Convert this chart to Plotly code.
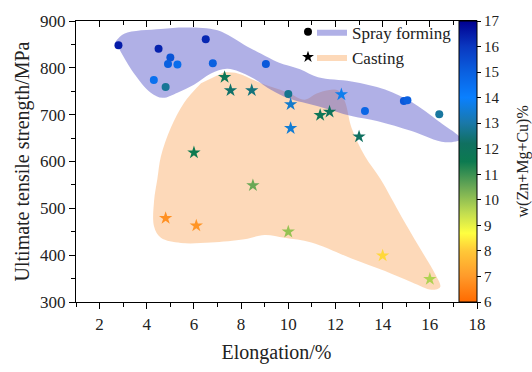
import plotly.graph_objects as go

# ---------------- data ----------------
spray_elong = [2.8, 4.5, 5.0, 4.9, 5.3, 4.3, 4.8, 6.5, 6.8, 9.05, 10.0, 13.25, 14.9, 15.05, 16.4]
spray_uts   = [848, 841, 822, 808, 807, 774, 759, 861, 810, 808, 744, 708, 729, 731, 701]
spray_w     = [16.5, 16.4, 15.3, 15.0, 14.6, 14.5, 12.8, 16.3, 15.0, 15.2, 12.7, 14.8, 15.2, 15.0, 12.9]

cast_elong = [7.3, 7.55, 8.45, 10.1, 10.1, 6.0, 11.35, 11.75, 12.25, 13.0, 8.5, 4.8, 6.1, 10.0, 14.0, 16.0]
cast_uts   = [780, 752, 752, 722, 671, 619, 699, 706, 743, 653, 549, 479, 463, 450, 399, 349]
cast_w     = [11.7, 12.3, 12.5, 13.4, 13.5, 11.5, 11.8, 12.0, 13.8, 12.2, 10.5, 6.8, 6.9, 10.0, 8.2, 9.7]

# region outlines (elongation, UTS)
spray_region_x = [2.68, 3.04, 4.6, 5.73, 7.0, 8.14, 8.85, 9.56, 10.5, 11.26, 12.68, 14.1, 15.23, 16.37, 17.3,
                  16.65, 15.23, 13.8, 12.68, 11.26, 10.0, 9.3, 8.43, 7.43, 6.72, 6.0, 5.3, 4.67, 4.17, 3.46, 2.89]
spray_region_y = [856, 873, 883, 886, 880, 849, 830, 812, 797, 780, 771, 754, 727, 686, 648,
                  641, 665, 686, 697, 718, 735, 752, 780, 798, 788, 764, 747, 736, 747, 788, 835]

cast_region_x = [7.29, 7.86, 8.85, 9.99, 10.7, 11.2, 11.68, 12.1, 12.4, 12.68, 13.25, 13.9, 14.8, 15.52, 16.23, 16.44,
                 16.08, 15.23, 14.1, 12.68, 10.98, 9.84, 9.0, 8.14, 6.72, 5.45, 4.6, 4.31, 4.31, 4.45, 4.6, 5.02, 5.59, 6.3]
cast_region_y = [791, 788, 767, 747, 732, 745, 752, 752, 728, 672, 611, 563, 482, 420, 359, 332,
                 326, 342, 366, 393, 427, 437, 443, 434, 427, 426, 437, 461, 516, 563, 611, 672, 726, 767]

x_ticks = [2, 4, 6, 8, 10, 12, 14, 16, 18]
y_ticks = [300, 400, 500, 600, 700, 800, 900]
cb_ticks = [6, 7, 8, 9, 10, 11, 12, 13, 14, 15, 16, 17]

colorscale = [
    [0.0, "#ff6a00"], [0.0909, "#ff9a2a"], [0.1818, "#ffc838"], [0.245, "#ffff40"],
    [0.318, "#c0dc50"], [0.409, "#6aa855"], [0.5, "#0c7a50"], [0.564, "#107060"],
    [0.636, "#1a78a8"], [0.727, "#0a80ff"], [0.818, "#0a60e0"], [0.909, "#0a38c0"],
    [1.0, "#000090"],
]

FONT = "Liberation Serif"
L, R, T, B = 76, 55, 15, 63
W, H = 532, 372
pw = W - L - R
ph = H - T - B

def px_to_paper_x(p):
    return (p - L) / pw

def py_to_paper_y(p):
    return (H - B - p) / ph

fig = go.Figure()

# regions
fig.add_trace(go.Scatter(x=cast_region_x, y=cast_region_y, fill="toself", mode="lines",
                         line=dict(width=0, shape="spline", smoothing=1.0),
                         fillcolor="rgba(250,160,80,0.40)", name="Casting",
                         legend="legend", legendrank=2, hoverinfo="skip"))
fig.add_trace(go.Scatter(x=spray_region_x, y=spray_region_y, fill="toself", mode="lines",
                         line=dict(width=0, shape="spline", smoothing=1.0),
                         fillcolor="rgba(80,80,200,0.45)", name="Spray forming",
                         legend="legend", legendrank=1, hoverinfo="skip"))

# data points
fig.add_trace(go.Scatter(x=spray_elong, y=spray_uts, mode="markers",
                         marker=dict(symbol="circle", size=8, color=spray_w, coloraxis="coloraxis"),
                         showlegend=False))
fig.add_trace(go.Scatter(x=cast_elong, y=cast_uts, mode="markers",
                         marker=dict(symbol="star", size=10, color=cast_w, coloraxis="coloraxis"),
                         showlegend=False))

# legend marker glyphs
fig.add_trace(go.Scatter(x=[None], y=[None], mode="markers",
                         marker=dict(symbol="circle", size=8, color="black"),
                         name=" ", legend="legend2", legendrank=1))
fig.add_trace(go.Scatter(x=[None], y=[None], mode="markers",
                         marker=dict(symbol="star", size=9, color="black"),
                         name=" ", legend="legend2", legendrank=2))

axis_common = dict(showline=True, linecolor="black", linewidth=1.3, showgrid=False, zeroline=False,
                   tickcolor="black", tickwidth=1.2, tickfont=dict(family=FONT, size=17, color="#222"))

fig.update_layout(
    width=W, height=H, margin=dict(l=L, r=R, t=T, b=B),
    paper_bgcolor="white", plot_bgcolor="white",
    font=dict(family=FONT, color="#222"),
    xaxis=dict(range=[1, 18], tickvals=x_ticks, ticks="outside", ticklen=6,
               minor=dict(dtick=1, tick0=1, ticks="outside", ticklen=4, tickcolor="black", tickwidth=1.2),
               title=dict(text="Elongation/%", font=dict(family=FONT, size=20), standoff=12),
               **axis_common),
    xaxis2=dict(range=[1, 18], overlaying="x", side="top", showticklabels=False,
                tickvals=x_ticks, ticks="inside", ticklen=6,
                minor=dict(dtick=1, tick0=1, ticks="inside", ticklen=4, tickcolor="black", tickwidth=1.2),
                showline=True, linecolor="black", linewidth=1.3, showgrid=False, zeroline=False,
                tickcolor="black", tickwidth=1.2),
    yaxis=dict(range=[300, 900], tickvals=y_ticks, ticks="outside", ticklen=6,
               minor=dict(dtick=50, tick0=300, ticks="outside", ticklen=4, tickcolor="black", tickwidth=1.2),
               title=dict(text="Ultimate tensile strength/MPa", font=dict(family=FONT, size=20), standoff=4),
               **axis_common),
    coloraxis=dict(cmin=6, cmax=17, colorscale=colorscale,
                   colorbar=dict(x=px_to_paper_x(459), xanchor="left", y=0.5, yanchor="middle",
                                 len=1, lenmode="fraction", thickness=18, ypad=0, xpad=0,
                                 outlinewidth=1, outlinecolor="black",
                                 tickvals=cb_ticks, ticks="outside", ticklen=4, tickcolor="black",
                                 tickfont=dict(family=FONT, size=15, color="#222"))),
    legend=dict(x=px_to_paper_x(312), xanchor="left", y=py_to_paper_y(8), yanchor="top",
                bgcolor="rgba(0,0,0,0)", font=dict(family=FONT, size=17, color="#222"),
                itemwidth=30, tracegroupgap=0, traceorder="normal"),
    legend2=dict(x=px_to_paper_x(288), xanchor="left", y=py_to_paper_y(8), yanchor="top",
                 bgcolor="rgba(0,0,0,0)", font=dict(family=FONT, size=17, color="#222"),
                 itemwidth=30, tracegroupgap=0, traceorder="normal"),
    annotations=[dict(text="w(Zn+Mg+Cu)%", textangle=-90, xref="paper", yref="paper",
                      x=px_to_paper_x(522), y=0.5, xanchor="center", yanchor="middle",
                      showarrow=False, font=dict(family=FONT, size=16, color="#222"))],
)

# attach an invisible trace to xaxis2 so it renders
fig.add_trace(go.Scatter(x=[None], y=[None], xaxis="x2", showlegend=False, hoverinfo="skip"))

fig.write_html("out.html")
